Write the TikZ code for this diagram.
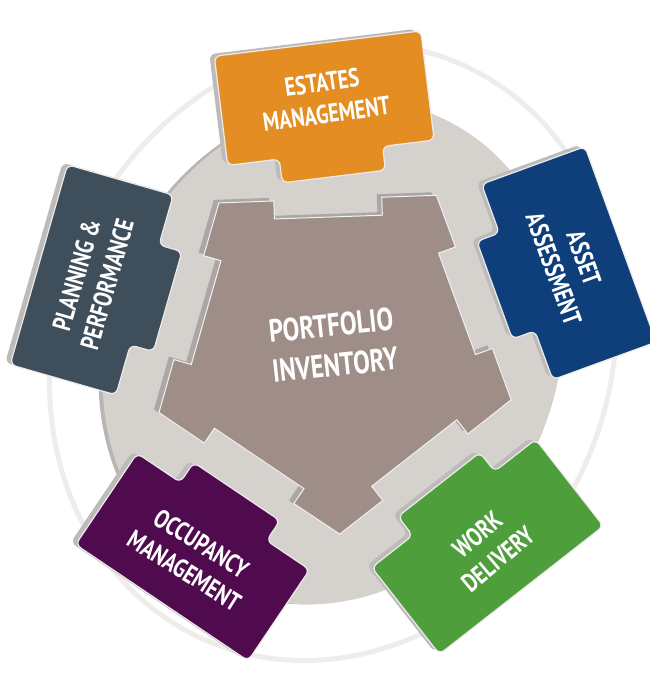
\documentclass[tikz,border=0pt]{standalone}
\usepackage{fontspec}
\setmainfont{PT Sans}[FakeStretch=0.78]
\usepackage{tikz}
\usetikzlibrary{calc}
\definecolor{estates}{HTML}{E48D22}
\definecolor{asset}{HTML}{0F3F7B}
\definecolor{work}{HTML}{4F9E3C}
\definecolor{occupancy}{HTML}{500A4E}
\definecolor{planning}{HTML}{3E4E5B}
\definecolor{portfolio}{HTML}{9F8E88}
\definecolor{disc}{HTML}{D5D1CD}
\definecolor{discedge}{HTML}{B9B5B2}
\definecolor{ring}{HTML}{EFEDEC}
\definecolor{boxedge}{HTML}{BDBBBA}
\definecolor{pentedge}{HTML}{ABA7A4}

\begin{document}
\begin{tikzpicture}[
  x=1pt, y=1pt,
  tabshape/.style={rounded corners=6pt},
  tabline/.style={draw=white!85!gray, line width=1.2pt},
  tabtext/.style={text=white, align=center, font=\fontsize{26}{32}\selectfont\bfseries},
  centretext/.style={text=white, align=center, font=\fontsize{32}{40}\selectfont\bfseries}
  ]
  \newcommand{\tabpath}{(-104,306) -- (104,306) -- (104,196) -- (52,196) -- (52,172)
    -- (-52,172) -- (-52,196) -- (-104,196) -- cycle}
  \newcommand{\pentapath}{([rotate=2]-108.7,150)
    \foreach \a in {92,20,-52,-124,-196}{
      -- ([rotate=\a-90]-54,150) -- ([rotate=\a-90]-54,132)
      -- ([rotate=\a-90]54,132) -- ([rotate=\a-90]54,150)
      -- ([rotate=\a-90]108.7,150)} -- cycle}
  % #1 angle, #2 tilt, #3 colour, #4 name, #5 text rotation, #6 text
  \newcommand{\puzzletab}[6]{
    \begin{scope}[shift={(-5,2)}, rotate=#1-90]
      \fill[boxedge, tabshape, rotate around={#2:(0,251)}] \tabpath;
    \end{scope}
    \begin{scope}[rotate=#1-90]
      \filldraw[fill=#3, tabline, tabshape, rotate around={#2:(0,251)}] \tabpath;
      \node[tabtext, rotate=#5] (#4) at (0,251) {#6};
    \end{scope}
  }
  \useasboundingbox (-333,-328) rectangle (317,349);

  % ring and disc
  \draw[ring, line width=5pt, rotate around={65:(0,-3)}] (0,-3) ellipse [x radius=315, y radius=276];
  \fill[discedge, rotate around={65:(-4,-3)}] (-4,-3) ellipse [x radius=258, y radius=224];
  \fill[disc, rotate around={65:(0,-3)}] (0,-3) ellipse [x radius=258, y radius=224];

  % inventory in the middle
  \begin{scope}[shift={(-5,3)}]
    \fill[pentedge] \pentapath;
  \end{scope}
  \filldraw[fill=portfolio, draw=white!90!gray, line width=1pt] \pentapath;
  \node[centretext, rotate=6] (inventory) at (0,4) {PORTFOLIO\\INVENTORY};

  % the five tabs
  \puzzletab{92}{5}{estates}{estates}{8}{ESTATES\\MANAGEMENT}
  \puzzletab{20}{0}{asset}{asset}{-70}{ASSET\\ASSESSMENT}
  \puzzletab{-52}{0}{work}{work}{40}{WORK\\DELIVERY}
  \puzzletab{-124}{0}{occupancy}{occupancy}{-32}{OCCUPANCY\\MANAGEMENT}
  \puzzletab{164}{0}{planning}{planning}{74}{PLANNING \&\\PERFORMANCE}
\end{tikzpicture}
\end{document}
